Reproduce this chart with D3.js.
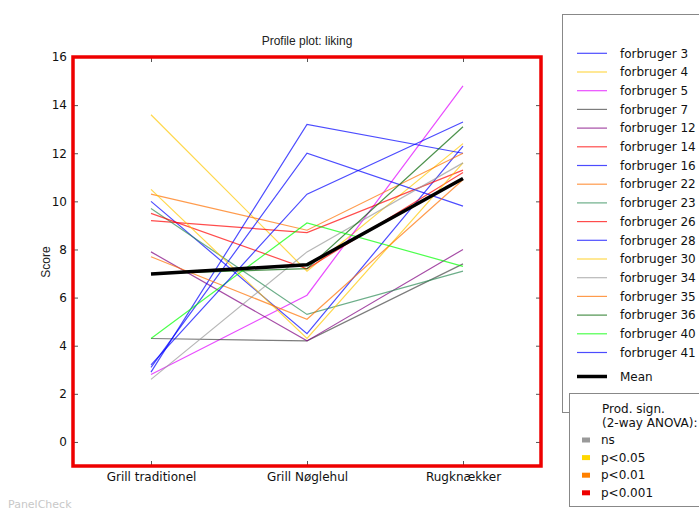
<!DOCTYPE html>
<html>
<head>
<meta charset="utf-8">
<script src="https://cdn.jsdelivr.net/npm/d3@7"></script>
<style>
  body { margin: 0; background: #fff; }
  svg { display: block; font-family: "DejaVu Sans", sans-serif; }
</style>
</head>
<body>
<div id="chart"></div>
<script>
// products on the x axis
const products = ["Grill traditionel", "Grill Nøglehul", "Rugknækker"]

// assessors, in legend order
const assessors = ["forbruger 3", "forbruger 4", "forbruger 5", "forbruger 7", "forbruger 12",
  "forbruger 14", "forbruger 16", "forbruger 22", "forbruger 23", "forbruger 26", "forbruger 28",
  "forbruger 30", "forbruger 34", "forbruger 35", "forbruger 36", "forbruger 40", "forbruger 41"]

// scores per assessor (one row per assessor, one value per product)
const scores = [
  [10.0, 4.5, 12.3],
  [13.6, 7.1, 12.4],
  [2.8, 6.1, 14.8],
  [4.3, 4.2, 7.4],
  [7.9, 4.2, 8.0],
  [9.2, 8.7, 11.3],
  [2.9, 13.2, 12.0],
  [10.3, 8.8, 12.0],
  [9.7, 5.3, 7.1],
  [9.5, 7.2, 11.2],
  [3.1, 12.0, 9.8],
  [10.5, 4.3, 11.6],
  [2.6, 7.9, 11.6],
  [7.7, 5.1, 10.9],
  [7.0, 7.2, 13.1],
  [4.3, 9.1, 7.3],
  [3.2, 10.3, 13.3]
]

const yTicks = [0, 2, 4, 6, 8, 10, 12, 14, 16]
const signLabels = ["ns", "p<0.05", "p<0.01", "p<0.001"]

// styles
const lineColors = ["#0000ff", "#ffc800", "#e000ff", "#444444", "#800080", "#ff0000", "#0000ff",
  "#ff7000", "#2e8b57", "#ff0000", "#0000ff", "#ffc800", "#999999", "#ff7000", "#006400",
  "#00ff00", "#0000ff"]
const signColors = ["#999999", "#ffd700", "#ff8000", "#ee0000"]

const W = 699, H = 511
const FRAME = { LEFT: 73, RIGHT: 541, TOP: 57, BOTTOM: 466 }

const svg = d3.select("#chart").append("svg")
  .attr("width", W)
  .attr("height", H)

const x = d3.scalePoint()
  .domain(products)
  .range([FRAME.LEFT, FRAME.RIGHT])
  .padding(0.5)

const y = d3.scaleLinear()
  .domain([-1, 16])
  .range([FRAME.BOTTOM, FRAME.TOP])

// title
svg.append("text")
  .attr("x", 307)
  .attr("y", 45)
  .attr("text-anchor", "middle")
  .style("font-family", "'Liberation Sans Narrow', 'Liberation Sans', sans-serif")
  .style("font-size", "12px")
  .attr("fill", "#222")
  .text("Profile plot: liking")

// y label
svg.append("text")
  .attr("transform", "translate(50, 262) rotate(-90)")
  .attr("text-anchor", "middle")
  .style("font-family", "'Liberation Sans Narrow', 'Liberation Sans', sans-serif")
  .style("font-size", "12px")
  .attr("fill", "#222")
  .text("Score")

// axes (ticks pointing inwards)
const leftAx = svg.append("g")
  .attr("transform", `translate(${FRAME.LEFT}, 0)`)
  .call(d3.axisLeft(y).tickValues(yTicks).tickSize(-5).tickPadding(6))
const rightAx = svg.append("g")
  .attr("transform", `translate(${FRAME.RIGHT}, 0)`)
  .call(d3.axisRight(y).tickValues(yTicks).tickSize(-5).tickFormat(""))
const topAx = svg.append("g")
  .attr("transform", `translate(0, ${FRAME.TOP})`)
  .call(d3.axisTop(x).tickSize(-5).tickFormat(""))
const bottomAx = svg.append("g")
  .attr("transform", `translate(0, ${FRAME.BOTTOM})`)
  .call(d3.axisBottom(x).tickSize(-5).tickPadding(6))

;[leftAx, rightAx, topAx, bottomAx].forEach(a => {
  a.select(".domain").remove()
  a.selectAll(".tick line").attr("stroke", "#555")
  a.selectAll("text")
    .style("font-family", "'DejaVu Sans', sans-serif")
    .style("font-size", "12px")
    .attr("fill", "#111")
})

// assessor lines
const line = d3.line()
  .x((d, i) => x(products[i]))
  .y(d => y(d))

svg.append("g").selectAll("path")
  .data(scores)
  .enter()
  .append("path")
  .attr("d", line)
  .attr("fill", "none")
  .attr("stroke", (d, i) => lineColors[i])
  .attr("stroke-opacity", 0.7)
  .attr("stroke-width", 1.2)

// mean line
const means = products.map((p, j) => d3.mean(scores, r => r[j]))
svg.append("path")
  .attr("d", line(means))
  .attr("fill", "none")
  .attr("stroke", "#000")
  .attr("stroke-width", 3.5)

// red frame (product significance)
svg.append("rect")
  .attr("x", FRAME.LEFT)
  .attr("y", FRAME.TOP)
  .attr("width", FRAME.RIGHT - FRAME.LEFT)
  .attr("height", FRAME.BOTTOM - FRAME.TOP)
  .attr("fill", "none")
  .attr("stroke", "#ee0000")
  .attr("stroke-width", 3.5)

// assessor legend
const leg = svg.append("g")
leg.append("rect")
  .attr("x", 562.5).attr("y", 14.5)
  .attr("width", 150).attr("height", 398)
  .attr("fill", "#fff")
  .attr("stroke", "#888")

const legY = d3.scaleLinear().domain([0, 1]).range([53.3, 72])
assessors.forEach((name, i) => {
  leg.append("line")
    .attr("x1", 577).attr("x2", 607)
    .attr("y1", legY(i)).attr("y2", legY(i))
    .attr("stroke", lineColors[i])
    .attr("stroke-opacity", 0.7)
    .attr("stroke-width", 1.2)
  leg.append("text")
    .attr("x", 620).attr("y", legY(i))
    .attr("dy", "0.35em")
    .style("font-size", "12px")
    .attr("fill", "#111")
    .text(name)
})
leg.append("line")
  .attr("x1", 577).attr("x2", 607)
  .attr("y1", 376.5).attr("y2", 376.5)
  .attr("stroke", "#000")
  .attr("stroke-width", 3.5)
leg.append("text")
  .attr("x", 620).attr("y", 376.5)
  .attr("dy", "0.35em")
  .style("font-size", "12px")
  .attr("fill", "#111")
  .text("Mean")

// significance legend
const sig = svg.append("g")
sig.append("rect")
  .attr("x", 569.5).attr("y", 393.5)
  .attr("width", 150).attr("height", 113)
  .attr("fill", "#fff")
  .attr("stroke", "#888")
sig.append("text")
  .attr("x", 602).attr("y", 409).attr("dy", "0.35em")
  .style("font-size", "12px").attr("fill", "#111")
  .text("Prod. sign.")
sig.append("text")
  .attr("x", 602).attr("y", 423).attr("dy", "0.35em")
  .style("font-size", "12px").attr("fill", "#111")
  .text("(2-way ANOVA):")

const sigY = d3.scaleLinear().domain([0, 1]).range([440, 457.6])
signLabels.forEach((lab, i) => {
  sig.append("rect")
    .attr("x", 582).attr("y", sigY(i) - 2.5)
    .attr("width", 8).attr("height", 5)
    .attr("fill", signColors[i])
  sig.append("text")
    .attr("x", 601).attr("y", sigY(i))
    .attr("dy", "0.35em")
    .style("font-size", "12px")
    .attr("fill", "#111")
    .text(lab)
})

// watermark
svg.append("text")
  .attr("x", 8).attr("y", 508)
  .style("font-size", "11px")
  .attr("fill", "#c8c8c8")
  .text("PanelCheck")
</script>
</body>
</html>
